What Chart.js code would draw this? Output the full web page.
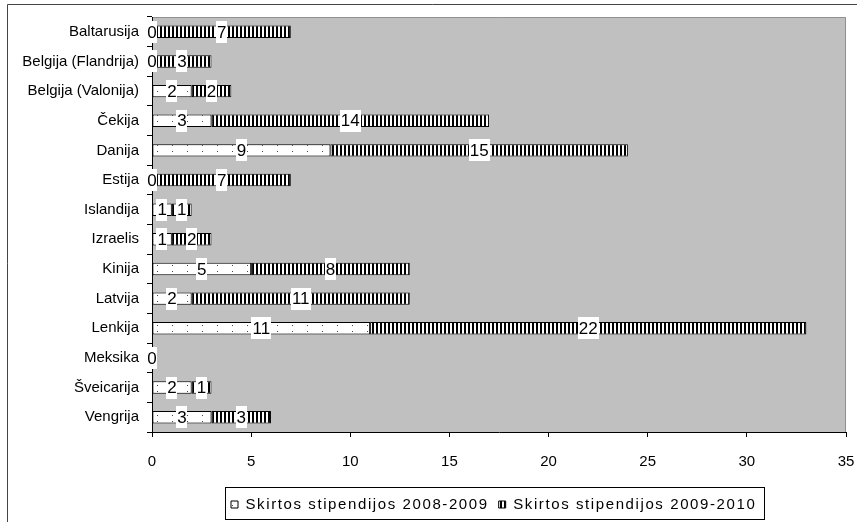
<!DOCTYPE html>
<html>
<head>
<meta charset="utf-8">
<script src="https://cdn.jsdelivr.net/npm/chart.js@4.4.0/dist/chart.umd.min.js"></script>
<style>
  body { margin: 0; background: #fff; }
  #wrap { width: 857px; height: 522px; position: relative; }
</style>
</head>
<body>
<div id="wrap"><canvas id="chart"></canvas></div>
<script>
// data
var countries = ["Baltarusija", "Belgija (Flandrija)", "Belgija (Valonija)", "Čekija", "Danija",
  "Estija", "Islandija", "Izraelis", "Kinija", "Latvija", "Lenkija", "Meksika", "Šveicarija", "Vengrija"];
var grants0809 = [0, 0, 2, 3, 9, 0, 1, 1, 5, 2, 11, 0, 2, 3];
var grants0910 = [7, 3, 2, 14, 15, 7, 1, 2, 8, 11, 22, 0, 1, 3];
var seriesNames = ["Skirtos stipendijos 2008-2009", "Skirtos stipendijos 2009-2010"];

var FONT = "'Liberation Sans', Arial, sans-serif";
var LEGEND_SPACING = '1.6px';
Chart.defaults.font.family = FONT;
Chart.defaults.color = "#000";

function makeDots() {
  var c = document.createElement('canvas');
  c.width = 15; c.height = 6;
  var g = c.getContext('2d');
  g.fillStyle = '#fff';
  g.fillRect(0, 0, 15, 6);
  g.fillStyle = '#444';
  g.fillRect(7, 1, 1, 1);
  return g.createPattern(c, 'repeat');
}

function makeStripes() {
  var c = document.createElement('canvas');
  c.width = 4; c.height = 4;
  var g = c.getContext('2d');
  g.fillStyle = '#fff';
  g.fillRect(0, 0, 4, 4);
  g.fillStyle = '#000';
  g.fillRect(0, 0, 2, 4);
  return g.createPattern(c, 'repeat');
}

var extras = {
  id: 'extras',
  beforeLayout: function(chart) {
    // the legend text of the original is spaced wider
    chart.ctx.letterSpacing = LEGEND_SPACING;
  },
  afterLayout: function(chart) {
    chart.ctx.letterSpacing = '0px';
  },
  afterUpdate: function(chart) {
    var lg = chart.legend, hb = lg.legendHitBoxes;
    if (!hb || !hb.length) return;
    // move the legend row so it starts where the original one does
    var d = 231 - hb[0].left;
    lg.left += d; lg.right += d;
    hb.forEach(function(b) { b.left += d; });
    if (!lg._spaced) {
      var draw = lg.draw;
      lg.draw = function() {
        chart.ctx.letterSpacing = LEGEND_SPACING;
        draw.apply(this, arguments);
        chart.ctx.letterSpacing = '0px';
      };
      lg._spaced = true;
    }
  },
  beforeDraw: function(chart) {
    var a = chart.chartArea, ctx = chart.ctx;
    ctx.save();
    ctx.fillStyle = '#c0c0c0';
    ctx.fillRect(a.left, a.top, a.right - a.left, a.bottom - a.top);
    ctx.strokeStyle = '#909090';
    ctx.lineWidth = 1;
    ctx.beginPath();
    ctx.moveTo(a.left, a.top + 0.5);
    ctx.lineTo(a.right - 0.5, a.top + 0.5);
    ctx.lineTo(a.right - 0.5, a.bottom);
    ctx.stroke();
    // outer frame (runs off the right and bottom edges)
    ctx.strokeStyle = '#444';
    ctx.beginPath();
    ctx.moveTo(7.5, chart.height);
    ctx.lineTo(7.5, 4.5);
    ctx.lineTo(chart.width, 4.5);
    ctx.stroke();
    ctx.restore();
  },
  afterDraw: function(chart) {
    var ctx = chart.ctx;
    ctx.save();
    ctx.letterSpacing = '0px';
    // value labels on white boxes
    ctx.font = "17px " + FONT;
    ctx.textAlign = 'center';
    ctx.textBaseline = 'middle';
    chart.data.datasets.forEach(function(ds, i) {
      chart.getDatasetMeta(i).data.forEach(function(bar, j) {
        var txt = String(ds.data[j]);
        var cx = (bar.x + bar.base) / 2;
        var w = ctx.measureText(txt).width + 2;
        ctx.fillStyle = '#fff';
        ctx.fillRect(Math.round(cx - w / 2), Math.round(bar.y - 11), Math.round(w), 22);
        ctx.fillStyle = '#000';
        ctx.fillText(txt, cx, bar.y + 1);
      });
    });
    // legend frame
    var hb = chart.legend.legendHitBoxes;
    if (hb && hb.length) {
      var last = hb[hb.length - 1];
      var l = Math.round(hb[0].left - 6), r = Math.round(last.left + last.width + 8);
      var t = Math.round(hb[0].top - 10), b = Math.round(hb[0].top + hb[0].height + 7);
      ctx.strokeStyle = '#000';
      ctx.lineWidth = 1;
      ctx.strokeRect(l + 0.5, t + 0.5, r - l, b - t);
    }
    ctx.restore();
  }
};

new Chart(document.getElementById('chart'), {
  type: 'bar',
  data: {
    labels: countries,
    datasets: [
      { label: seriesNames[0], data: grants0809, backgroundColor: makeDots(), borderColor: '#000', borderWidth: 1, borderSkipped: false },
      { label: seriesNames[1], data: grants0910, backgroundColor: makeStripes(), borderColor: '#000', borderWidth: 1, borderSkipped: false }
    ]
  },
  options: {
    indexAxis: 'y',
    responsive: true,
    maintainAspectRatio: false,
    animation: false,
    devicePixelRatio: 1,
    layout: { padding: { left: 0, right: 11, top: 17, bottom: 0 } },
    datasets: { bar: { barPercentage: 0.84, categoryPercentage: 0.5 } },
    scales: {
      x: {
        stacked: true,
        min: 0, max: 35,
        ticks: { stepSize: 5, font: { size: 15 }, padding: 16, color: '#000' },
        grid: { drawOnChartArea: false, tickLength: 5, color: '#000' },
        border: { color: '#000' },
        afterFit: function(s) { s.height = 55; s.paddingRight = 5; s.paddingLeft = 0; }
      },
      y: {
        stacked: true,
        ticks: { font: { size: 15 }, padding: 8, color: '#000' },
        grid: { drawOnChartArea: false, tickLength: 5, color: '#000', offset: true },
        border: { color: '#000' },
        afterFit: function(s) { s.width = 152; }
      }
    },
    plugins: {
      tooltip: { enabled: false },
      legend: {
        position: 'bottom',
        labels: { boxWidth: 7, boxHeight: 7, font: { size: 15 }, padding: 10, color: '#000' }
      }
    }
  },
  plugins: [extras]
});
</script>
</body>
</html>
